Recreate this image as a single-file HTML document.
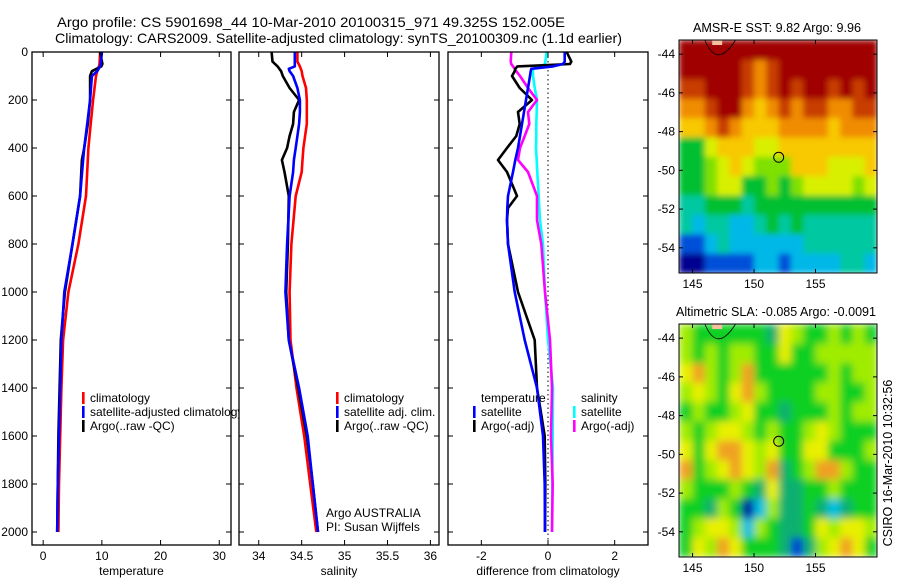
<!DOCTYPE html>
<html><head><meta charset="utf-8"><style>
html,body{margin:0;padding:0;background:#fff;width:900px;height:580px;overflow:hidden}
svg{display:block;font-family:"Liberation Sans","DejaVu Sans",sans-serif}
</style></head><body>
<svg id="fig" width="900" height="580" viewBox="0 0 900 580" xmlns="http://www.w3.org/2000/svg">
<defs>
<filter id="blurSST" filterUnits="userSpaceOnUse" x="679" y="40" width="198" height="233"><feGaussianBlur stdDeviation="3" edgeMode="duplicate"/></filter>
<filter id="blurSLA" filterUnits="userSpaceOnUse" x="679" y="324" width="198" height="233"><feGaussianBlur stdDeviation="4" edgeMode="duplicate"/></filter>
</defs>
<text x="57" y="27" font-size="14" textLength="508" lengthAdjust="spacingAndGlyphs">Argo profile: CS 5901698_44 10-Mar-2010 20100315_971 49.325S 152.005E</text>
<text x="55" y="43" font-size="14" textLength="567" lengthAdjust="spacingAndGlyphs">Climatology: CARS2009. Satellite-adjusted climatology: synTS_20100309.nc (1.1d earlier)</text>
<g id="plots"></g>
<text x="693" y="32" font-size="12.5" textLength="168" lengthAdjust="spacingAndGlyphs">AMSR-E SST: 9.82 Argo: 9.96</text>
<text x="676" y="316" font-size="12.5" textLength="200" lengthAdjust="spacingAndGlyphs">Altimetric SLA: -0.085 Argo: -0.0091</text>
<text transform="translate(892,463) rotate(-90)" font-size="12.5" text-anchor="middle">CSIRO 16-Mar-2010 10:32:56</text>
</svg>
<script>
// depth levels (m)
const depthT = [0,50,60,80,100,200,300,400,450,600,800,1000,1200,1400,1600,1800,2000];
const tempClim = [9.7,9.6,9.5,9.2,9.0,8.5,8.1,7.7,7.6,7.3,6.0,4.3,3.4,3.1,2.9,2.7,2.6];
const tempSat  = [10.0,9.8,9.7,9.2,8.3,8.0,7.5,7.0,6.8,6.3,5.0,3.6,3.1,2.9,2.7,2.5,2.4];
const tempArgo = [9.7,10.1,9.9,8.3,8.0,8.0,7.6,7.0,6.6,6.3,5.0,3.7,3.0,2.8,2.6,2.5,2.4];
const depthS = [0,40,60,70,80,100,150,200,250,300,350,400,450,500,600,800,1000,1200,1400,1600,1800,2000];
const salClim = [34.45,34.45,34.48,34.49,34.5,34.51,34.55,34.56,34.56,34.56,34.54,34.52,34.51,34.5,34.43,34.38,34.36,34.37,34.44,34.53,34.6,34.67];
const salSat  = [34.42,34.42,34.42,34.35,34.36,34.4,34.45,34.48,34.48,34.47,34.45,34.43,34.41,34.4,34.36,34.33,34.31,34.35,34.47,34.57,34.63,34.69];
const salArgo = [34.15,34.16,34.22,34.24,34.26,34.28,34.36,34.47,34.41,34.4,34.36,34.33,34.27,34.3,34.35,34.34,34.32,34.35,34.46,34.56,34.63,34.69];
const depthD = [0,40,50,60,70,80,100,150,200,250,300,350,400,450,500,600,650,700,800,1000,1200,1400,1600,1800,2000];
const dTsat  = [0.5,0.5,0.45,0.15,-0.5,-0.52,-0.54,-0.6,-0.66,-0.72,-0.78,-0.84,-0.9,-0.98,-1.05,-1.2,-1.22,-1.23,-1.2,-1.0,-0.7,-0.33,-0.15,-0.1,-0.09];
const dTargo = [0.56,0.7,0.66,-0.92,-0.98,-1.0,-1.08,-0.85,-0.48,-0.9,-0.85,-0.95,-1.23,-1.5,-1.23,-0.93,-1.2,-1.23,-1.2,-0.9,-0.4,-0.33,-0.1,-0.08,-0.09];
const dSsat  = [-0.04,-0.08,-0.09,-0.2,-0.45,-0.45,-0.45,-0.4,-0.33,-0.34,-0.35,-0.35,-0.36,-0.34,-0.32,-0.28,-0.26,-0.24,-0.15,-0.09,0.0,0.15,0.14,0.13,0.12];
const dSargo = [-1.1,-1.12,-1.1,-1.05,-1.0,-0.95,-0.84,-0.6,-0.33,-0.6,-0.56,-0.7,-0.84,-0.9,-0.6,-0.33,-0.33,-0.33,-0.2,-0.09,0.06,0.12,0.09,0.14,0.12];
const depthTicks = [0,200,400,600,800,1000,1200,1400,1600,1800,2000];
const tempTicks = [0,10,20,30];
const salTicks = [34,34.5,35,35.5,36];
const salTickLabels = ["34","34.5","35","35.5","36"];
const diffTicks = [-2,0,2];
// maps (rows north->south, 1 deg; cols 144-160 lon)
const sstRows = [
"9999999999999999","9999987899999999","8899987898998989","7789976787887788",
"6678766677776777","3356665566666666","3345654446665556","3345533434555545",
"2233323333333333","2122112323222222","0012111111222222","aa00001101111221"];
const slaRows = [
"LGGGGGGTYLGGLGLG","LGLGLLGGYGGLLLLL","YOLGLOGGGGGGLGLL","LYLGYOLGGGGLLGGL",
"GLGGLYGGTGGGLGLL","LGLYYLGLGGLYLGGG","YGYOOYLYGGYYGGGL","OGLYOYLOTGLOOLGG",
"LGGGLGTYTTGGLGGG","GGTLGDCLTTGTCTGG","GLYYLCLGTTGYLYYL","GYLOYGGGTBTLYOYG"];
const latTicks = [-44,-46,-48,-50,-52,-54];
const lonTicks = [145,150,155];
const argoPos = [152.005,-49.325];

const NS="http://www.w3.org/2000/svg";
const root=document.getElementById('plots');
function el(t,a,p){const e=document.createElementNS(NS,t);for(const k in a)e.setAttribute(k,a[k]);(p||root).appendChild(e);return e;}
const yD=d=>52+d*0.24;

function panel(x0,x1,xmin,xmax,name){
  const g=el('g',{});
  
  
  const bg=el('rect',{x:x0,y:52,width:x1-x0,height:493,fill:'#fff',stroke:'none'},g);
  
  
  const sx=v=>x0+(v-xmin)/(xmax-xmin)*(x1-x0);
  return {g,sx,x0,x1};
}
function frame(p,xt,xl,ylab,title,name){
  const g=p.g;
  const fr=el('rect',{x:p.x0,y:52,width:p.x1-p.x0,height:493,fill:'none',stroke:'#000','stroke-width':1.3},g);
  
  
  xt.forEach((v,i)=>{const x=p.sx(v);
    el('line',{x1:x,x2:x,y1:52,y2:57,stroke:'#000'},g);
    el('line',{x1:x,x2:x,y1:545,y2:540,stroke:'#000'},g);
    const t=el('text',{x:x,y:560,'font-size':12,'text-anchor':'middle'},g);t.textContent=xl[i];
    
    });
  depthTicks.forEach(d=>{const y=yD(d);
    el('line',{x1:p.x0,x2:p.x0+5,y1:y,y2:y,stroke:'#000'},g);
    el('line',{x1:p.x1,x2:p.x1-5,y1:y,y2:y,stroke:'#000'},g);
    if(ylab){const t=el('text',{x:28,y:y+4,'font-size':12,'text-anchor':'end'},g);t.textContent=d;
      
      }});
  const t=el('text',{x:(p.x0+p.x1)/2,y:575,'font-size':12,'text-anchor':'middle'},g);t.textContent=title;
  
  
}
function line(p,vals,deps,color,name){
  const pts=vals.map((v,i)=>p.sx(v).toFixed(1)+','+yD(deps[i]).toFixed(1)).join(' ');
  const l=el('polyline',{points:pts,fill:'none',stroke:color,'stroke-width':2.6,'stroke-linejoin':'round'},p.g);
  
  
}
function leg(g,x,y,color,txt,name){
  if(color){el('rect',{x:x,y:y-6,width:2.6,height:12,fill:color},g);}
  const t=el('text',{x:x+8,y:y+4,'font-size':12},g);t.textContent=txt;
  
  
}

// Panel 1 temperature
const p1=panel(32,231,-1.9,32,'temperature-panel');
line(p1,tempClim,depthT,'#f00','temp-climatology-line');
line(p1,tempArgo,depthT,'#000','temp-argo-line');
line(p1,tempSat,depthT,'#00f','temp-satellite-line');
leg(p1.g,82,398,'#f00','climatology','legend-climatology');
leg(p1.g,82,412,'#00f','satellite-adjusted climatology','legend-satellite-adjusted');
leg(p1.g,82,426,'#000','Argo(..raw -QC)','legend-argo');
frame(p1,tempTicks,tempTicks.map(String),true,'temperature','temperature');

// Panel 2 salinity
const p2=panel(239,439,33.77,36.1,'salinity-panel');
line(p2,salClim,depthS,'#f00','sal-climatology-line');
line(p2,salArgo,depthS,'#000','sal-argo-line');
line(p2,salSat,depthS,'#00f','sal-satellite-line');
leg(p2.g,336,398,'#f00','climatology','legend-sal-climatology');
leg(p2.g,336,412,'#00f','satellite adj. clim.','legend-sal-satellite');
leg(p2.g,336,426,'#000','Argo(..raw -QC)','legend-sal-argo');
leg(p2.g,318,513,null,'Argo AUSTRALIA','data-centre-label');
leg(p2.g,318,527,null,'PI: Susan Wijffels','pi-label');
frame(p2,salTicks,salTickLabels,false,'salinity','salinity');

// Panel 3 difference
const p3=panel(448,648,-3,3,'difference-panel');
{const z=p3.sx(0);const d=el('line',{x1:z,x2:z,y1:52,y2:545,stroke:'#000','stroke-dasharray':'1.5,3'},p3.g);
}
line(p3,dSsat,depthD,'#0ff','diff-sal-satellite-line');
line(p3,dSargo,depthD,'#f0f','diff-sal-argo-line');
line(p3,dTargo,depthD,'#000','diff-temp-argo-line');
line(p3,dTsat,depthD,'#00f','diff-temp-satellite-line');
leg(p3.g,473,398,null,'temperature','legend-temperature-header');
leg(p3.g,473,412,'#00f','satellite','legend-temp-satellite');
leg(p3.g,473,426,'#000','Argo(-adj)','legend-temp-argo');
leg(p3.g,573,398,null,'salinity','legend-salinity-header');
leg(p3.g,573,412,'#0ff','satellite','legend-sal-satellite-diff');
leg(p3.g,573,426,'#f0f','Argo(-adj)','legend-sal-argo-diff');
frame(p3,diffTicks,diffTicks.map(String),false,'difference from climatology','difference');

// Maps
const sstCol={a:'#000090','0':'#0050d8','1':'#00b8e8','2':'#00c8a0','3':'#00c030','4':'#80e000','5':'#d8f000','6':'#f8c800','7':'#f08c00','8':'#c83c00','9':'#a00000'};
const slaCol={G:'#10d020',L:'#a0ec00',Y:'#e8f000',O:'#f0a020',T:'#10b070',C:'#00c0e0',B:'#0040d0',D:'#0000a0'};
function map(top,bottom,rows,cols,name,latTop,latBot,filt){
  const g=el('g',{});
  
  
  const L=679,R=877,lon0=143.9,lon1=160;
  const sx=v=>L+(v-lon0)/(lon1-lon0)*(R-L);
  const sy=v=>top+(latTop-v)/(latTop-latBot)*(bottom-top);
  const cg=el('g',{filter:'url(#'+filt+')'},g);
  rows.forEach((r,i)=>{[...r].forEach((c,j)=>{
    const x=sx(144+j),y=sy(-43.3-i);
    const x2=sx(145+j),y2=sy(-44.3-i);
    const cx=j===0?L:x,cy=i===0?top:y;
    const ex=j===r.length-1?R:x2,ey=i===rows.length-1?bottom:y2;
    const cell=el('rect',{x:cx,y:cy,width:ex-cx+0.5,height:ey-cy+0.5,fill:cols[c]},cg);
    
    });});
  el('path',{d:`M${sx(146)} ${top} Q${sx(147)} ${sy(-44.8)} ${sx(148.5)} ${top}`,fill:'none',stroke:'#000','stroke-width':0.8},g);
  el('rect',{x:sx(146.6),y:top,width:10,height:5,fill:'#f4c0a0'},g);
  const c=el('circle',{cx:sx(argoPos[0]),cy:sy(argoPos[1]),r:5,fill:'none',stroke:'#000','stroke-width':1},g);
  
  
  el('rect',{x:L,y:top,width:R-L,height:bottom-top,fill:'none',stroke:'#000','stroke-width':1},g);
  latTicks.forEach(v=>{const y=sy(v);
    el('line',{x1:L,x2:L+4,y1:y,y2:y,stroke:'#000'},g);el('line',{x1:R,x2:R-4,y1:y,y2:y,stroke:'#000'},g);
    const t=el('text',{x:675,y:y+4,'font-size':12,'text-anchor':'end'},g);t.textContent=v;
    });
  lonTicks.forEach(v=>{const x=sx(v);
    el('line',{x1:x,x2:x,y1:top,y2:top+4,stroke:'#000'},g);el('line',{x1:x,x2:x,y1:bottom,y2:bottom-4,stroke:'#000'},g);
    const t=el('text',{x:x,y:bottom+15,'font-size':12,'text-anchor':'middle'},g);t.textContent=v;
    });
}
map(40,273,sstRows,sstCol,'sst-map',-43.27,-55.3,'blurSST');
map(324,557,slaRows,slaCol,'sla-map',-43.27,-55.3,'blurSLA');
</script>
</body></html>
